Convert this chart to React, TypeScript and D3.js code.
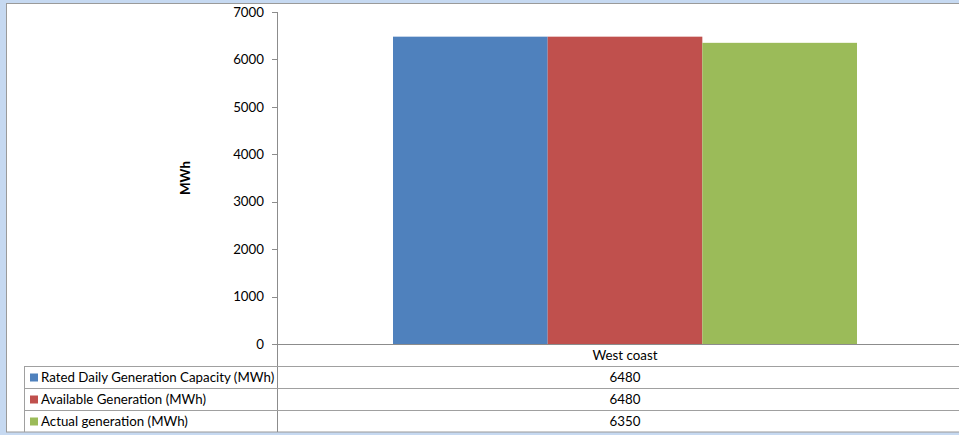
import * as d3 from "d3";

const categories = ["West coast"];
const seriesNames = [
  "Rated Daily Generation Capacity (MWh)",
  "Available Generation (MWh)",
  "Actual generation (MWh)",
];
const seriesValues = [[6480], [6480], [6350]];
const seriesColors = ["#4f81bd", "#c0504d", "#9bbb59"];
const yTicks = [0, 1000, 2000, 3000, 4000, 5000, 6000, 7000];

const W = 959;
const H = 435;
const AXIS_X = 277;
const PLOT_RIGHT = 973;
const ROW_H = 22;
const FONT = "Lato, 'Open Sans', sans-serif";
const FS = 13.3;

export default function App() {
  const y = d3.scaleLinear().domain([0, 7000]).range([344, 12]);
  const x = d3
    .scaleBand<string>()
    .domain(categories)
    .range([AXIS_X, PLOT_RIGHT])
    .paddingInner(0)
    .paddingOuter(0.25);
  const xs = d3
    .scaleBand<string>()
    .domain(seriesNames)
    .range([0, x.bandwidth()]);

  const base = y(0);
  const catCenter = (c: string) => (x(c) ?? 0) + x.bandwidth() / 2;
  const tableBottom = base + ROW_H * (seriesNames.length + 1);

  return (
    <svg
      width={W}
      height={H}
      style={{ position: "absolute", left: 0, top: 0, display: "block" }}
      fontFamily={FONT}
    >
      {/* outer frame */}
      <rect x={0} y={0} width={W} height={H} fill="#c6d9f1" />
      <rect
        x={6.5}
        y={3.5}
        width={W}
        height={tableBottom - 3.5}
        fill="#fff"
        stroke="#9a9a9a"
      />

      {/* bars */}
      {categories.map((c, ci) =>
        seriesNames.map((s, si) => (
          <rect
            key={`${c}-${s}`}
            x={(x(c) ?? 0) + (xs(s) ?? 0)}
            y={y(seriesValues[si][ci])}
            width={xs.bandwidth()}
            height={base - y(seriesValues[si][ci])}
            fill={seriesColors[si]}
          />
        ))
      )}

      {/* y axis */}
      <line x1={AXIS_X + 0.5} x2={AXIS_X + 0.5} y1={y(7000)} y2={tableBottom} stroke="#8c8c8c" />
      {yTicks.map((t) => (
        <g key={t}>
          <line
            x1={AXIS_X - 5}
            x2={AXIS_X}
            y1={Math.round(y(t)) + 0.5}
            y2={Math.round(y(t)) + 0.5}
            stroke="#8c8c8c"
          />
          <text
            x={264}
            y={y(t)}
            dy="0.35em"
            textAnchor="end"
            fontSize={FS}
            fill="#000"
          >
            {t}
          </text>
        </g>
      ))}
      <text
        transform={`translate(190,${(y(7000) + base) / 2}) rotate(-90)`}
        textAnchor="middle"
        fontSize={FS}
        fontWeight="bold"
        fill="#000"
      >
        MWh
      </text>

      {/* data table */}
      <line x1={AXIS_X - 5} x2={W} y1={base + 0.5} y2={base + 0.5} stroke="#8c8c8c" />
      {seriesNames.map((s, i) => {
        const yy = base + ROW_H * (i + 1);
        return (
          <line key={s} x1={24} x2={W} y1={yy + 0.5} y2={yy + 0.5} stroke="#a0a0a0" />
        );
      })}
      <line x1={24.5} x2={24.5} y1={base + ROW_H} y2={tableBottom} stroke="#a0a0a0" />
      {categories.map((c) => (
        <text
          key={c}
          x={catCenter(c)}
          y={base + ROW_H / 2}
          dy="0.35em"
          textAnchor="middle"
          fontSize={FS}
          fill="#000"
        >
          {c}
        </text>
      ))}
      {seriesNames.map((s, i) => {
        const cy = base + ROW_H * (i + 1) + ROW_H / 2;
        return (
          <g key={s}>
            <rect x={30} y={cy - 3.5} width={8} height={8} fill={seriesColors[i]} />
            <text x={41} y={cy} dy="0.35em" fontSize={FS} fill="#000">
              {s}
            </text>
            {categories.map((c, ci) => (
              <text
                key={c}
                x={catCenter(c)}
                y={cy}
                dy="0.35em"
                textAnchor="middle"
                fontSize={FS}
                fill="#000"
              >
                {seriesValues[i][ci]}
              </text>
            ))}
          </g>
        );
      })}
    </svg>
  );
}
